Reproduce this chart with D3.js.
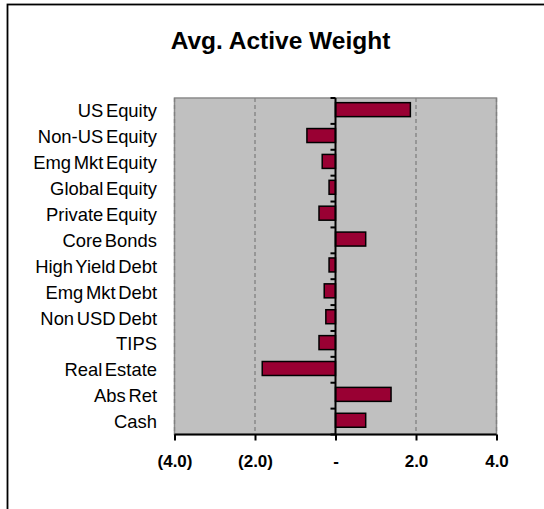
<!DOCTYPE html>
<html>
<head>
<meta charset="utf-8">
<script src="https://cdn.jsdelivr.net/npm/d3@7"></script>
<style>
  html, body { margin: 0; padding: 0; background: #fff; }
  svg { display: block; }
</style>
</head>
<body>
<svg id="chart" width="544" height="509"></svg>
<script>
// Asset classes, top to bottom
const categories = [
  "US Equity", "Non-US Equity", "Emg Mkt Equity", "Global Equity", "Private Equity",
  "Core Bonds", "High Yield Debt", "Emg Mkt Debt", "Non USD Debt", "TIPS",
  "Real Estate", "Abs Ret", "Cash"
];
// Average active weight per asset class
const activeWeight = [1.86, -0.71, -0.33, -0.16, -0.41, 0.75, -0.16, -0.28, -0.24, -0.41, -1.82, 1.38, 0.75];
// Value axis ticks and their labels
const xTicks = [-4, -2, 0, 2, 4];
const xTickLabels = ["(4.0)", "(2.0)", "-", "2.0", "4.0"];
const title = "Avg. Active Weight";

const data = categories.map((c, i) => ({ cat: c, v: activeWeight[i] }));

const svg = d3.select("#chart");
const plot = { left: 174.5, right: 496.5, top: 98, bottom: 434.5 };

const x = d3.scaleLinear().domain([-4, 4]).range([plot.left, plot.right]);
const y = d3.scaleBand().domain(categories).range([plot.top, plot.bottom]).padding(0);

// Outer chart frame
svg.append("rect")
  .attr("x", 7.5).attr("y", 4.5)
  .attr("width", 560).attr("height", 520)
  .attr("fill", "#fff").attr("stroke", "#000").attr("stroke-width", 1.8);

// Title
svg.append("text")
  .attr("x", 280.5).attr("y", 48.5)
  .attr("text-anchor", "middle")
  .attr("font-family", "Liberation Sans, Arial, sans-serif")
  .attr("font-weight", "bold")
  .attr("font-size", 24.5)
  .text(title);

// Plot area background
svg.append("rect")
  .attr("x", plot.left).attr("y", plot.top)
  .attr("width", plot.right - plot.left).attr("height", plot.bottom - plot.top)
  .attr("fill", "#c0c0c0").attr("stroke", "#8a8a8a").attr("stroke-width", 1.5);

// Dashed vertical gridlines
svg.append("g").selectAll("line")
  .data(xTicks.filter(t => t !== 0))
  .join("line")
  .attr("x1", d => x(d)).attr("x2", d => x(d))
  .attr("y1", plot.top).attr("y2", plot.bottom)
  .attr("stroke", "#808080").attr("stroke-width", 1.3)
  .attr("stroke-dasharray", "4,3");

// Bars
svg.append("g").selectAll("rect")
  .data(data)
  .join("rect")
  .attr("x", d => x(Math.min(0, d.v)))
  .attr("y", d => y(d.cat) + y.bandwidth() * 0.18)
  .attr("width", d => Math.abs(x(d.v) - x(0)))
  .attr("height", y.bandwidth() * 0.54)
  .attr("fill", "#990033")
  .attr("stroke", "#000").attr("stroke-width", 1.5);

// Category axis along zero, ticks at band boundaries pointing left
const boundaries = categories.map(c => y(c)).concat([plot.bottom]);
const zeroAxis = svg.append("g");
zeroAxis.append("line")
  .attr("x1", x(0)).attr("x2", x(0))
  .attr("y1", plot.top).attr("y2", plot.bottom)
  .attr("stroke", "#000").attr("stroke-width", 2);
zeroAxis.selectAll("line.tick")
  .data(boundaries)
  .join("line").attr("class", "tick")
  .attr("x1", x(0) - 5).attr("x2", x(0))
  .attr("y1", d => d).attr("y2", d => d)
  .attr("stroke", "#000").attr("stroke-width", 2);

// Category labels on the left
svg.append("g").selectAll("text")
  .data(categories)
  .join("text")
  .attr("x", 157)
  .attr("y", d => y(d) + y.bandwidth() / 2 + 6.5)
  .attr("text-anchor", "end")
  .attr("font-family", "Liberation Sans, Arial, sans-serif")
  .attr("font-size", 18.4)
  .attr("word-spacing", -2.5)
  .text(d => d);

// Value axis at the bottom
const xAxis = d3.axisBottom(x)
  .tickValues(xTicks)
  .tickSize(6)
  .tickPadding(14)
  .tickFormat((d, i) => xTickLabels[i]);
const gx = svg.append("g")
  .attr("transform", `translate(0,${plot.bottom})`)
  .call(xAxis);
gx.select(".domain").attr("stroke", "#000").attr("stroke-width", 2)
  .attr("d", `M${plot.left},0H${plot.right}`);
gx.selectAll(".tick line").attr("stroke", "#000").attr("stroke-width", 2);
gx.selectAll(".tick text")
  .attr("font-family", "Liberation Sans, Arial, sans-serif")
  .attr("font-weight", "bold")
  .attr("font-size", 17)
  .attr("fill", "#000");
</script>
</body>
</html>
